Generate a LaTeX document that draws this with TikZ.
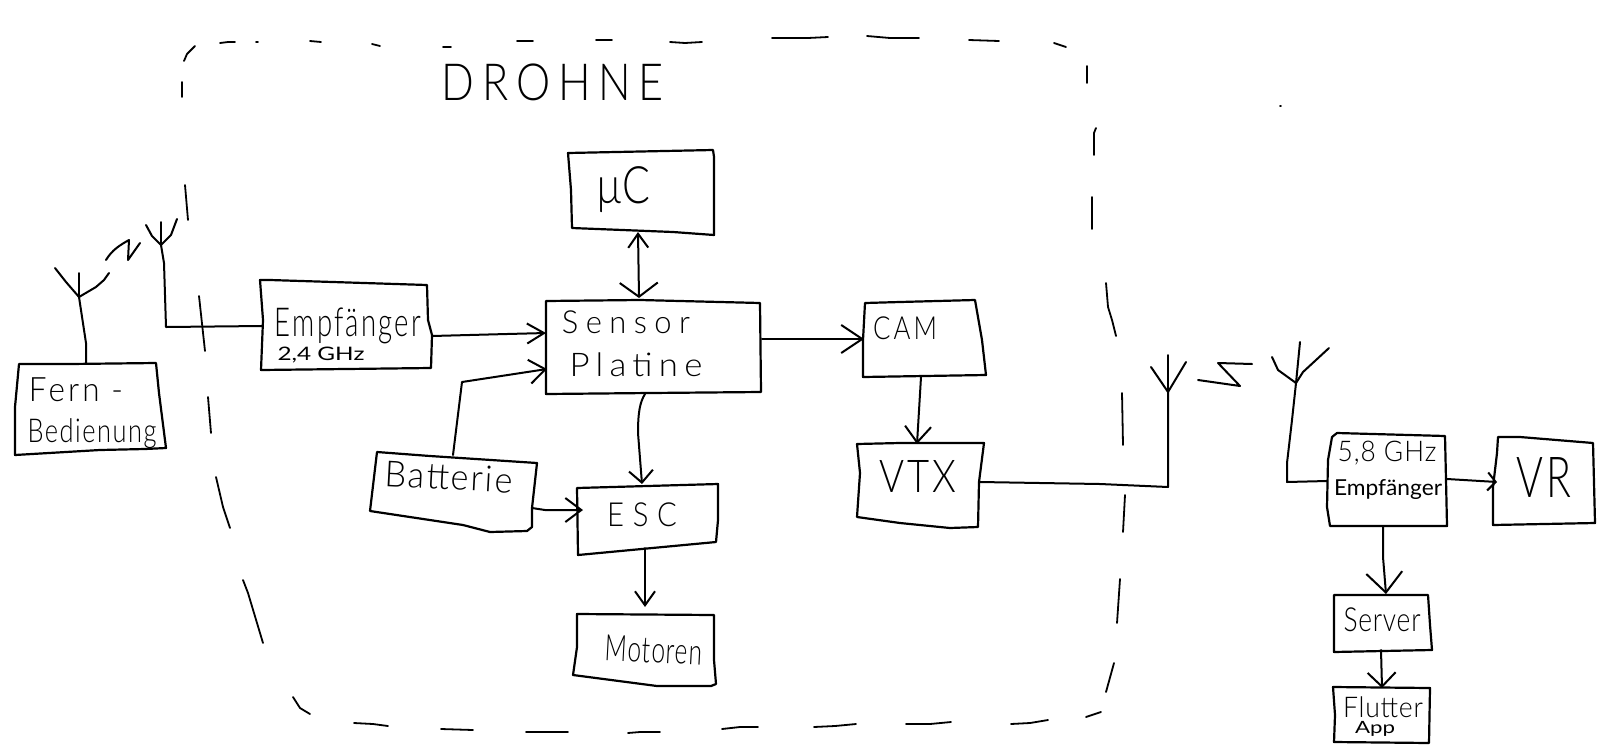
\documentclass[tikz,border=0pt]{standalone}
\usepackage{fontspec}
\usepackage{graphicx}
\setmainfont{Lato Light}
\newfontfamily\smallface{Lato}
\usetikzlibrary{arrows.meta}
\tikzset{
  ink/.style={line width=1pt,line cap=round,line join=round,black},
  boxline/.style={ink,line width=1.1pt},
  dashpiece/.style={ink,line width=.9pt},
  arrowto/.style n args={2}{-{Straight Barb[length=#1pt,width=#2pt]}},
  arrowboth/.style n args={4}{{Straight Barb[length=#1pt,width=#2pt]}-{Straight Barb[length=#3pt,width=#4pt]}},
  lab/.style={inner sep=0pt,outer sep=0pt,anchor=center}
}
% name, x, y, ink width, ink height, spacing, text
\newcommand{\lbl}[7]{\node[lab] (#1) at (#2,#3) {\resizebox*{\dimexpr #4pt/2\relax}{\dimexpr #5pt/2\relax}{\addfontfeature{LetterSpace=#6}#7}};}
\begin{document}
\begin{tikzpicture}[x=0.5pt,y=-0.5pt]
\useasboundingbox (0,0) rectangle (1600,750);
\fill[white] (0,0) rectangle (1600,750);

% DROHNE outline, drawn in pieces
\foreach \p in {
 {(184,61) -- (187,54) -- (195,46)},
 {(182,82) -- (182,97)},
 {(220,43) -- (228,42) -- (235,42)},
 {(256,42) -- (258,42)},
 {(310,41) -- (321,42)},
 {(372,44) -- (380,46)},
 {(443,47) -- (451,47)},
 {(517,41) -- (533,41)},
 {(596,40) -- (612,40)},
 {(670,42) -- (685,43) -- (702,42)},
 {(772,38) -- (808,38) -- (828,37)},
 {(867,36) -- (890,38) -- (919,38)},
 {(969,40) -- (999,41)},
 {(1054,43) -- (1066,47)},
 {(1087,66) -- (1087,83)},
 {(1096,128) -- (1094,133) -- (1094,155)},
 {(1092,197) -- (1092,229)},
 {(1106,283) -- (1108,307) -- (1112,320) -- (1116,336)},
 {(1122,393) -- (1123,445)},
 {(1125,495) -- (1123,532)},
 {(1120,579) -- (1117,623)},
 {(1114,663) -- (1106,692)},
 {(1086,717) -- (1101,712)},
 {(1011,724) -- (1030,723) -- (1048,720)},
 {(906,724) -- (930,724) -- (951,722)},
 {(814,727) -- (835,726) -- (856,724)},
 {(722,729) -- (740,727) -- (758,727)},
 {(628,733) -- (640,732) -- (660,732)},
 {(526,732) -- (568,732)},
 {(441,729) -- (473,730)},
 {(354,723) -- (373,724) -- (388,726)},
 {(293,697) -- (300,708) -- (310,714)},
 {(243,580) -- (248,593) -- (263,643)},
 {(216,477) -- (223,507) -- (230,528)},
 {(208,397) -- (211,433)},
 {(199,296) -- (205,351)},
 {(185,185) -- (188,220)},
 {(1280,106) -- (1281,106)}
}{\draw[dashpiece] \p;}

% boxes
\draw[boxline] (19,364) -- (70,364) -- (156,363) -- (159,393) -- (166,448) -- (145,449) -- (100,450) -- (15,455) -- (15,407) -- cycle;
\draw[boxline] (260,280) -- (270,280) -- (427,285) -- (428,320) -- (432,335) -- (431,368) -- (261,370) -- (263,320) -- cycle;
\draw[boxline] (568,153) -- (713,150) -- (714,157) -- (714,235) -- (673,232) -- (572,228) -- (571,190) -- cycle;
\draw[boxline] (546,301) -- (640,300) -- (760,303) -- (761,392) -- (650,393) -- (546,394) -- cycle;
\draw[boxline] (865,303) -- (900,302) -- (975,300) -- (982,340) -- (986,375) -- (863,377) -- (863,340) -- cycle;
\draw[boxline] (857,444) -- (900,443) -- (984,443) -- (979,482) -- (978,527) -- (950,528) -- (900,523) -- (857,517) -- (860,473) -- cycle;
\draw[boxline] (377,452) -- (430,456) -- (537,463) -- (532,508) -- (532,527) -- (527,531) -- (490,532) -- (463,525) -- (370,511) -- cycle;
\draw[boxline] (577,488) -- (718,484) -- (718,520) -- (716,542) -- (578,555) -- cycle;
\draw[boxline] (577,614) -- (714,615) -- (714,660) -- (716,684) -- (711,686) -- (657,686) -- (573,675) -- (577,647) -- cycle;
\draw[boxline] (1332,437) -- (1337,433) -- (1445,436) -- (1446,480) -- (1447,526) -- (1330,526) -- (1327,507) -- (1328,460) -- cycle;
\draw[boxline] (1498,437) -- (1520,437) -- (1593,443) -- (1595,523) -- (1493,525) -- (1493,487) -- (1497,453) -- cycle;
\draw[boxline] (1334,595) -- (1428,595) -- (1430,625) -- (1432,650) -- (1334,652) -- cycle;
\draw[boxline] (1333,687) -- (1430,688) -- (1429,743) -- (1334,742) -- (1335,715) -- cycle;

% labels
\lbl{drohne}{553}{82}{222}{37}{18}{DROHNE}
\lbl{fern}{76}{390}{94}{24}{10}{Fern -}
\lbl{bedienung}{92}{434}{129}{30}{6}{Bedienung}
\lbl{empf}{348}{326}{146}{36}{8}{Empfänger}
\lbl{ghz}{321}{355}{87}{16}{13}{\smallface 2,4 GHz}
\lbl{mc}{623}{190}{54}{46}{0}{µC}
\lbl{sensor}{626}{322}{128}{23}{24}{Sensor}
\lbl{platine}{636}{365}{133}{24}{18}{Platine}
\lbl{cam}{905}{328}{64}{23}{12}{CAM}
\lbl{vtx}{918}{476}{77}{32}{8}{VTX}
\node[lab,rotate=-3] (batterie) at (449,477) {\resizebox*{64pt}{13pt}{\addfontfeature{LetterSpace=6}Batterie}};
\lbl{esc}{642}{515}{70}{24}{30}{ESC}
\node[lab,rotate=-3] (motoren) at (654,650) {\resizebox*{48.5pt}{13pt}{\addfontfeature{LetterSpace=4}Motoren}};
\lbl{ghzb}{1387}{453}{99}{24}{4}{5,8 GHz}
\lbl{empfb}{1388}{490}{108}{20}{6}{\smallface Empfänger}
\lbl{vr}{1544}{477}{55}{40}{8}{VR}
\lbl{server}{1382}{620}{77}{24}{3}{Server}
\lbl{flutter}{1383}{707}{80}{21}{3}{Flutter}
\lbl{app}{1375}{729}{40}{15}{5}{\smallface App}

% antennas
\coordinate (antA) at (79,297);
\coordinate (antB) at (161,245);
\coordinate (antC) at (1168,392);
\coordinate (antD) at (1296,383);
\draw[ink] (antA) -- (79,273);
\draw[ink] (55,268) -- (66,282) -- (antA) -- (96,287) -- (104,280) -- (109,273);
\draw[ink] (antB) -- (161,222);
\draw[ink] (146,225) -- (152,236) -- (antB) -- (171,235) -- (177,219);
\draw[ink] (antC) -- (1168,355);
\draw[ink] (1151,367) -- (antC) -- (1186,362);
\draw[ink] (antD) -- (1300,342);
\draw[ink] (1272,357) -- (1278,370) -- (antD) -- (1303,372) -- (1329,348);

% radio links
\draw[ink] (106,260) .. controls (112,250) and (120,245) .. (129,240) -- (128,260) -- (140,243);
\draw[ink] (1198,380) -- (1240,386) -- (1218,363) -- (1252,364);

% connectors
\coordinate (fernN) at (86,363);
\coordinate (empfW) at (262,326);
\coordinate (empfE) at (432,336);
\coordinate (sensW1) at (546,333);
\coordinate (sensW2) at (547,369);
\coordinate (battN) at (453,455);
\coordinate (battE) at (532,508);
\coordinate (escW) at (583,510);
\coordinate (sensS) at (645,394);
\coordinate (escN) at (642,484);
\coordinate (escS) at (645,548);
\coordinate (motN) at (645,607);
\coordinate (mcS) at (638,232);
\coordinate (sensN) at (639,298);
\coordinate (sensE) at (762,339);
\coordinate (camW) at (864,339);
\coordinate (camS) at (921,377);
\coordinate (vtxN) at (917,444);
\coordinate (vtxE) at (980,482);
\coordinate (recvW) at (1327,481);
\coordinate (recvE) at (1447,479);
\coordinate (vrW) at (1497,482);
\coordinate (recvS) at (1383,527);
\coordinate (servN) at (1386,594);
\coordinate (servS) at (1381,650);
\coordinate (flutN) at (1382,688);

\draw[ink] (fernN) -- (86,343) -- (antA);
\draw[ink] (antB) -- (164,263) -- (166,327) -- (empfW);
\draw[ink,arrowto={8.5}{10}] (empfE) -- (507,334) -- (sensW1);
\draw[ink,arrowto={8}{12}] (battN) -- (462,382) -- (sensW2);
\draw[ink,arrowto={8}{12}] (battE) -- (545,510) -- (escW);
\draw[ink,arrowto={6}{12}] (sensS) .. controls (640,402) and (638,412) .. (638,433) -- (escN);
\draw[ink,arrowto={7}{10}] (escS) -- (motN);
\draw[ink,arrowboth={7}{10}{7}{19}] (mcS) -- (sensN);
\draw[ink,arrowto={10.5}{14}] (sensE) -- (camW);
\draw[ink,arrowto={8}{13}] (camS) -- (vtxN);
\draw[ink] (vtxE) -- (1100,484) -- (1168,487) -- (antC);
\draw[ink] (antD) -- (1292,420) -- (1287,463) -- (1287,482) -- (recvW);
\draw[ink,arrowto={4}{9}] (recvE) -- (vrW);
\draw[ink,arrowto={10}{18}] (recvS) -- (1383,557) -- (servN);
\draw[ink,arrowto={7}{14}] (servS) -- (flutN);
\end{tikzpicture}
\end{document}
